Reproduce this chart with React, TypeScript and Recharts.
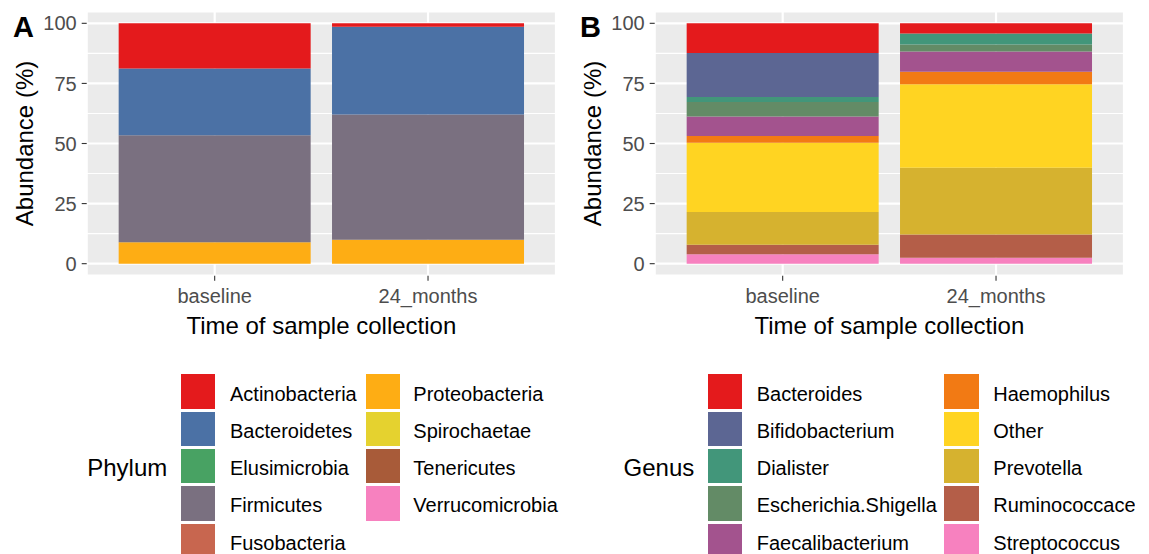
import { BarChart, Bar, XAxis, YAxis, CartesianGrid, Legend } from 'recharts';

const timepoints = ['baseline', '24_months'];

const phyla = [
  'Actinobacteria', 'Bacteroidetes', 'Elusimicrobia', 'Firmicutes', 'Fusobacteria',
  'Proteobacteria', 'Spirochaetae', 'Tenericutes', 'Verrucomicrobia',
];
const phylumColors = [
  '#E41A1C', '#4B71A5', '#48A263', '#7A7080', '#C8664F',
  '#FEAD14', '#E5D22F', '#A85B39', '#F781BF',
];
const phylumBaseline = [18.8, 27.8, 0, 44.5, 0, 8.9, 0, 0, 0];
const phylum24Months = [1.4, 36.5, 0, 52.1, 0, 10.0, 0, 0, 0];

const genera = [
  'Bacteroides', 'Bifidobacterium', 'Dialister', 'Escherichia.Shigella', 'Faecalibacterium',
  'Haemophilus', 'Other', 'Prevotella', 'Ruminococcaceae', 'Streptococcus',
];
const genusColors = [
  '#E41A1C', '#5C6693', '#42967A', '#638B66', '#A3538E',
  '#F27A14', '#FFD422', '#D6B22F', '#B45E48', '#F781BF',
];
const genusBaseline = [12.4, 18.3, 2.0, 6.1, 8.1, 2.8, 28.8, 13.6, 4.0, 3.9];
const genus24Months = [4.2, 0, 4.6, 2.9, 8.4, 5.3, 34.7, 27.8, 9.6, 2.5];

const yTicks = [0, 25, 50, 75, 100];
const yMinorTicks = [12.5, 37.5, 62.5, 87.5];

const FONT = '"Liberation Sans", Arial, sans-serif';
const CHART_W = 570;
const CHART_H = 554;

function buildRows(names: string[], series: number[][]) {
  return timepoints.map((time, i) => {
    const row: Record<string, any> = { time };
    names.forEach((n, j) => {
      row[n] = series[i][j];
    });
    return row;
  });
}

// ggplot-ish minor grid lines, placed through the y scale
const minorGrid = (props: any) => {
  const { yAxis, offset } = props;
  if (yAxis && typeof yAxis.scale === 'function') {
    return yMinorTicks.map((v) => yAxis.scale(v));
  }
  return yMinorTicks.map((v) => offset.top + ((105 - v) / 110) * offset.height);
};

const yTitle = (props: any) => {
  const vb = props.viewBox || { x: 0, y: 11.3, height: 264.4 };
  const x = vb.x + 33;
  const y = vb.y + vb.height / 2;
  return (
    <text x={x} y={y} transform={`rotate(-90, ${x}, ${y})`} textAnchor="middle" fontSize={24} fill="#000">
      Abundance (%)
    </text>
  );
};

const xTitle = (props: any) => {
  const vb = props.viewBox || { x: 86.7, y: 275.7, width: 469.3 };
  return (
    <text x={vb.x + vb.width / 2} y={vb.y + 58.3} textAnchor="middle" fontSize={24} fill="#000">
      Time of sample collection
    </text>
  );
};

interface LegendLayout {
  title: string;
  titleRight: number;
  keyX: number[];
  labelX: number[];
}

function makeLegend(names: string[], colors: string[], lay: LegendLayout) {
  return (props: any) => {
    const payload: any[] = props.payload || [];
    const colorOf = (n: string, i: number) => payload.find((p) => p.value === n)?.color ?? colors[i];
    return (
      <div style={{ position: 'relative', width: '100%', height: '100%', fontFamily: FONT, color: '#000' }}>
        <div
          style={{
            position: 'absolute', left: 0, top: 456.3, width: lay.titleRight,
            textAlign: 'right', fontSize: 24, lineHeight: '24px', whiteSpace: 'nowrap',
          }}
        >
          {lay.title}
        </div>
        {names.map((n, i) => {
          const col = Math.floor(i / 5);
          const top = 374.3 + (i % 5) * 37.3;
          return (
            <div key={n}>
              <div
                style={{
                  position: 'absolute', left: lay.keyX[col], top, width: 34.6, height: 34.4,
                  background: colorOf(n, i),
                }}
              />
              <div
                style={{
                  position: 'absolute', left: lay.labelX[col], top: top + 9.2,
                  fontSize: 20, lineHeight: '20px', whiteSpace: 'nowrap',
                }}
              >
                {n}
              </div>
            </div>
          );
        })}
      </div>
    );
  };
}

interface PanelProps {
  left: number;
  names: string[];
  colors: string[];
  series: number[][];
  legend: LegendLayout;
}

function Panel({ left, names, colors, series, legend }: PanelProps) {
  const data = buildRows(names, series);
  // first Bar sits at the bottom of the stack, ggplot puts the first level on top
  const order = names.map((n, i) => i).reverse();
  return (
    <div style={{ position: 'absolute', left, top: 0, width: CHART_W, height: CHART_H }}>
      <BarChart
        width={CHART_W}
        height={CHART_H}
        data={data}
        margin={{ top: 11.3, right: 14, bottom: 244, left: 0 }}
        barCategoryGap="5%"
      >
        <CartesianGrid
          fill="#EBEBEB"
          fillOpacity={1}
          stroke="#FFFFFF"
          strokeWidth={1.1}
          vertical={false}
          horizontalCoordinatesGenerator={minorGrid}
        />
        <CartesianGrid stroke="#FFFFFF" strokeWidth={2.2} />
        <XAxis
          dataKey="time"
          padding={{ left: 21.3, right: 21.3 }}
          height={34.3}
          axisLine={false}
          tickLine={{ stroke: '#333333', strokeWidth: 1.1 }}
          tickSize={5}
          tickMargin={8.4}
          tick={{ fill: '#4D4D4D', fontSize: 20 }}
          label={{ content: xTitle }}
        />
        <YAxis
          type="number"
          domain={[-5, 105]}
          ticks={yTicks}
          allowDataOverflow
          width={86.7}
          axisLine={false}
          tickLine={{ stroke: '#333333', strokeWidth: 1.1 }}
          tickSize={5}
          tickMargin={5}
          tick={{ fill: '#4D4D4D', fontSize: 20 }}
          label={{ content: yTitle }}
        />
        {order.map((i) => (
          <Bar key={names[i]} dataKey={names[i]} stackId="s" fill={colors[i]} isAnimationActive={false} />
        ))}
        <Legend
          layout="horizontal"
          verticalAlign="middle"
          align="center"
          wrapperStyle={{ left: 0, top: 0, width: CHART_W - 3, height: CHART_H, overflow: 'hidden' }}
          content={makeLegend(names, colors, legend)}
        />
      </BarChart>
    </div>
  );
}

export default function App() {
  return (
    <div
      style={{
        position: 'absolute', left: 0, top: 0, width: 1149, height: 554,
        overflow: 'hidden', background: '#FFFFFF', fontFamily: FONT,
      }}
    >
      <Panel
        left={0}
        names={phyla}
        colors={phylumColors}
        series={[phylumBaseline, phylum24Months]}
        legend={{ title: 'Phylum', titleRight: 167.3, keyX: [180.7, 365.7], labelX: [230, 413.3] }}
      />
      <Panel
        left={568}
        names={genera}
        colors={genusColors}
        series={[genusBaseline, genus24Months]}
        legend={{ title: 'Genus', titleRight: 126.3, keyX: [139.7, 376.3], labelX: [188.7, 425.3] }}
      />
      <div style={{ position: 'absolute', left: 13, top: 12.5, fontSize: 29, lineHeight: '29px', fontWeight: 'bold' }}>A</div>
      <div style={{ position: 'absolute', left: 580, top: 12.5, fontSize: 29, lineHeight: '29px', fontWeight: 'bold' }}>B</div>
    </div>
  );
}
